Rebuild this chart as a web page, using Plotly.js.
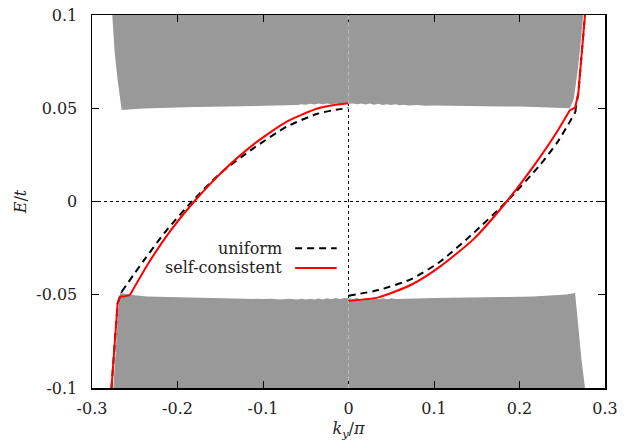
<!DOCTYPE html>
<html>
<head>
<meta charset="utf-8">
<script src="https://cdn.plot.ly/plotly-3.0.1.min.js"></script>
<style>html,body{margin:0;padding:0;background:#fff;}#chart{width:633px;height:443px;}</style>
</head>
<body>
<div id="chart"></div>
<script>
// ---- data ----
// upper bulk band (filled region): boundary points
var upperBandX = [-0.2763,-0.2735,-0.2700,-0.2653,-0.24,-0.22,-0.20,-0.18,-0.16,-0.14,-0.12,-0.10,-0.09,-0.08,-0.07,-0.06,-0.055,-0.05,-0.045,-0.04,-0.035,-0.03,-0.025,-0.02,-0.015,-0.01,-0.005,0,0.005,0.01,0.015,0.02,0.025,0.03,0.035,0.04,0.045,0.05,0.055,0.06,0.065,0.07,0.08,0.09,0.10,0.12,0.14,0.16,0.18,0.20,0.22,0.24,0.259,0.2635,0.268,0.2715,0.2745];
var upperBandY = [0.1,0.08,0.065,0.049,0.0498,0.0502,0.0505,0.0507,0.0508,0.0510,0.0512,0.0514,0.0516,0.0515,0.0519,0.0517,0.0522,0.0519,0.0524,0.0520,0.0525,0.0521,0.0526,0.0522,0.0526,0.0523,0.0527,0.0524,0.0526,0.0521,0.0526,0.0520,0.0525,0.0519,0.0524,0.0518,0.0522,0.0517,0.0521,0.0516,0.0519,0.0515,0.0517,0.0513,0.0515,0.0513,0.0512,0.0511,0.0510,0.0509,0.0507,0.0504,0.0500,0.055,0.07,0.085,0.1];
// lower bulk band (filled region): boundary points
var lowerBandX = [-0.2750,-0.2725,-0.2695,-0.2670,-0.262,-0.25,-0.236,-0.20,-0.158,-0.12,-0.10,-0.09,-0.08,-0.07,-0.06,-0.055,-0.05,-0.045,-0.04,-0.035,-0.03,-0.025,-0.02,-0.015,-0.01,-0.005,0,0.005,0.01,0.015,0.02,0.025,0.03,0.035,0.04,0.045,0.05,0.055,0.06,0.07,0.08,0.10,0.138,0.18,0.216,0.24,0.255,0.263,0.265,0.2688,0.2725,0.2766];
var lowerBandY = [-0.1,-0.08,-0.06,-0.049,-0.0495,-0.0503,-0.0510,-0.0514,-0.0519,-0.0521,-0.0523,-0.0521,-0.0525,-0.0521,-0.0526,-0.0522,-0.0526,-0.0521,-0.0525,-0.0520,-0.0525,-0.0519,-0.0524,-0.0518,-0.0523,-0.0518,-0.0519,-0.0524,-0.0518,-0.0525,-0.0519,-0.0525,-0.0520,-0.0524,-0.0519,-0.0524,-0.0519,-0.0523,-0.0523,-0.0519,-0.0520,-0.0518,-0.0514,-0.0512,-0.0510,-0.0505,-0.0498,-0.0492,-0.049,-0.067,-0.085,-0.1];

// uniform (black dashed) edge-state branches
var uniformLeftX  = [-0.2772,-0.2735,-0.2700,-0.2653,-0.2400,-0.2126,-0.1830,-0.1500,-0.1113,-0.0723,-0.0372,-0.0150,0];
var uniformLeftY  = [-0.1,-0.075,-0.0546,-0.0484,-0.0320,-0.0153,0.0,0.0151,0.0285,0.0401,0.0469,0.0492,0.0500];
var uniformRightX = [0,0.035,0.074,0.107,0.146,0.185,0.224,0.2454,0.2654,0.2660,0.2688,0.2725,0.2766];
var uniformRightY = [-0.0505,-0.0475,-0.0415,-0.0323,-0.0170,0.0,0.0196,0.0325,0.0480,0.0510,0.058,0.078,0.1];

// self-consistent (red) edge-state branches
var scLeftX  = [-0.2772,-0.2735,-0.2700,-0.2673,-0.2634,-0.2556,-0.2322,-0.2088,-0.1805,-0.1464,-0.1113,-0.0723,-0.0372,-0.0150,0];
var scLeftY  = [-0.1,-0.075,-0.0546,-0.0510,-0.0510,-0.0501,-0.0318,-0.0160,0.0,0.0165,0.0305,0.0428,0.0497,0.0519,0.0527];
var scRightX = [0,0.035,0.074,0.107,0.146,0.185,0.224,0.245,0.259,0.265,0.2688,0.2725,0.2766];
var scRightY = [-0.0533,-0.0514,-0.0445,-0.0349,-0.0203,0.0,0.0238,0.0382,0.0490,0.0503,0.058,0.078,0.1];

var xTickVals = [-0.3,-0.2,-0.1,0,0.1,0.2,0.3];
var xTickText = ["-0.3","-0.2","-0.1","0","0.1","0.2","0.3"];
var yTickVals = [-0.1,-0.05,0,0.05,0.1];
var yTickText = ["-0.1","-0.05","0","0.05","0.1"];
var seriesNames = ["uniform","self-consistent"];

// ---- chart ----
var FONT = "'DejaVu Serif', 'Liberation Serif', serif";
var FS = 16;
var GRAY = "#999999";
// a branch = steep part near the bulk band (straight segments) + smooth part (spline);
// split index marks where the smooth part starts in each branch array
function branch(x, y, splitAt, fromEnd, color, dash, name) {
  var out = [];
  var line = {color:color, width:2, dash:dash};
  var lin, smo;
  if (!fromEnd) {
    lin = {x:x.slice(0, splitAt + 1), y:y.slice(0, splitAt + 1)};
    smo = {x:x.slice(splitAt), y:y.slice(splitAt)};
  } else {
    smo = {x:x.slice(0, splitAt + 1), y:y.slice(0, splitAt + 1)};
    lin = {x:x.slice(splitAt), y:y.slice(splitAt)};
  }
  out.push({x:lin.x, y:lin.y, type:"scatter", mode:"lines", name:name, line:Object.assign({}, line, {shape:"linear"}), showlegend:false});
  out.push({x:smo.x, y:smo.y, type:"scatter", mode:"lines", name:name, line:Object.assign({}, line, {shape:"spline", smoothing:0.6}), showlegend:false});
  return out;
}
var traces = [
  {x: upperBandX, y: upperBandY, type:"scatter", mode:"lines", fill:"toself", fillcolor:GRAY, line:{width:0, color:GRAY}, hoverinfo:"skip", showlegend:false},
  {x: lowerBandX, y: lowerBandY, type:"scatter", mode:"lines", fill:"toself", fillcolor:GRAY, line:{width:0, color:GRAY}, hoverinfo:"skip", showlegend:false}
].concat(
  branch(uniformLeftX, uniformLeftY, 3, false, "#000", "7px,5px", seriesNames[0]),
  branch(uniformRightX, uniformRightY, 8, true, "#000", "7px,5px", seriesNames[0]),
  branch(scLeftX, scLeftY, 5, false, "#ff0000", "solid", seriesNames[1]),
  branch(scRightX, scRightY, 8, true, "#ff0000", "solid", seriesNames[1])
);

var axisCommon = {
  showgrid:false, zeroline:false, showline:true, linecolor:"#000", linewidth:1.5,
  mirror:"ticks", ticks:"inside", ticklen:7, tickwidth:1, tickcolor:"#000",
  tickfont:{family:FONT, size:FS, color:"#222"}
};

var layout = {
  width:633, height:443,
  margin:{l:92, r:28, t:15, b:55},
  paper_bgcolor:"#fff", plot_bgcolor:"#fff",
  font:{family:FONT, size:FS, color:"#222"},
  showlegend:false,
  xaxis: Object.assign({}, axisCommon, {
    range:[-0.3,0.3], tickmode:"array", tickvals:xTickVals, ticktext:xTickText, ticklabelstandoff:5,
    title:{text:"<i>k</i><sub><i>y</i></sub>/<i>π</i>", font:{family:FONT, size:FS, color:"#222"}, standoff:6}
  }),
  yaxis: Object.assign({}, axisCommon, {
    range:[-0.1,0.1], tickmode:"array", tickvals:yTickVals, ticktext:yTickText, ticklabelstandoff:10,
    title:{text:"<i>E</i>/<i>t</i>", font:{family:FONT, size:FS, color:"#222"}, standoff:5}
  }),
  shapes:[
    {type:"line", xref:"x", yref:"paper", x0:0, x1:0, y0:0, y1:1, line:{color:"#000", width:1, dash:"dot"}, layer:"below"},
    {type:"line", xref:"paper", yref:"y", x0:0, x1:1, y0:0, y1:0, line:{color:"#000", width:1, dash:"dot"}, layer:"below"},
    {type:"line", xref:"x", yref:"y", x0:0, x1:0, y0:0.0525, y1:0.1, line:{color:"#bdbdbd", width:1, dash:"4px,3px"}},
    {type:"line", xref:"x", yref:"y", x0:0, x1:0, y0:-0.1, y1:-0.0535, line:{color:"#bdbdbd", width:1, dash:"4px,3px"}},
    {type:"line", xref:"paper", yref:"paper", x0:0.396, x1:0.477, y0:0.375, y1:0.375, line:{color:"#000", width:2, dash:"7px,5px"}},
    {type:"line", xref:"paper", yref:"paper", x0:0.396, x1:0.477, y0:0.322, y1:0.322, line:{color:"#ff0000", width:2}}
  ],
  annotations:[
    {xref:"paper", yref:"paper", x:0.374, y:0.375, xanchor:"right", yanchor:"middle", showarrow:false, text:seriesNames[0], font:{family:FONT, size:FS, color:"#222"}},
    {xref:"paper", yref:"paper", x:0.374, y:0.322, xanchor:"right", yanchor:"middle", showarrow:false, text:seriesNames[1], font:{family:FONT, size:FS, color:"#222"}}
  ]
};

Plotly.newPlot("chart", traces, layout, {displayModeBar:false, staticPlot:true});
</script>
</body>
</html>
